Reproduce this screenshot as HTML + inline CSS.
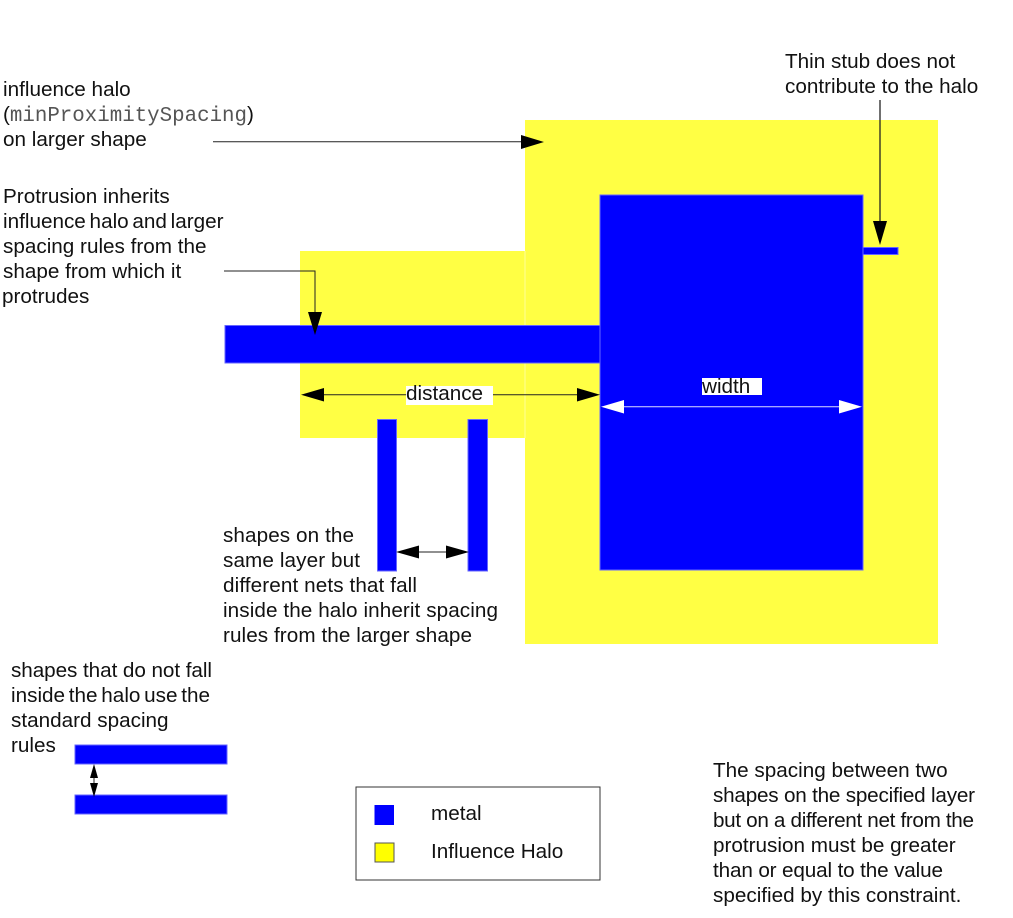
<!DOCTYPE html>
<html>
<head>
<meta charset="utf-8">
<style>
html,body{margin:0;padding:0;background:#fff}
svg{display:block}
text{font-family:"Liberation Sans",sans-serif;font-size:20.7px;fill:#111}
.m{font-family:"Liberation Mono",monospace;fill:#555;font-size:20.8px}
.t{word-spacing:-2px}
</style>
</head>
<body>
<svg width="1013" height="918" viewBox="0 0 1013 918" xmlns="http://www.w3.org/2000/svg">
<rect width="1013" height="918" fill="#fff"/>
<!-- halos -->
<rect x="525" y="120" width="413" height="524" fill="#ffff44"/>
<rect x="300" y="251" width="224.500" height="187" fill="#ffff44"/>
<rect x="524.500" y="251" width="1" height="187" fill="#ffff99"/>
<!-- metal -->
<g fill="#0000ff" stroke="#6666ff" stroke-width="1">
<rect x="600" y="195" width="263" height="375"/>
<rect x="225" y="325.500" width="375" height="37.500"/>
<rect x="377.500" y="419.500" width="19" height="151.500"/>
<rect x="468" y="419.500" width="19.500" height="151.500"/>
<rect x="863" y="247.500" width="35" height="7"/>
<rect x="75" y="745" width="152" height="19"/>
<rect x="75" y="795" width="152" height="19"/>
</g>
<!-- labels backgrounds -->
<rect x="406" y="386" width="87" height="19" fill="#fff"/>
<rect x="702" y="378" width="60" height="17" fill="#fff"/>
<!-- connectors -->
<g stroke="#222" stroke-width="1" fill="none">
<path d="M213 141.700H522"/>
<path d="M224 271H315V312"/>
<path d="M324 394.700H406M493 394.700H577"/>
<path d="M880 100V222" stroke-width="1.300"/>
<path d="M419 552H446"/>
<path d="M94 770V790"/>
</g>
<path d="M623 406.700H840" stroke="#ddddff" stroke-width="1" fill="none"/>
<!-- arrowheads -->
<g fill="#000">
<path d="M544 142L521 135V149Z"/>
<path d="M315 335L308 312H322Z"/>
<path d="M301 394.700L324 388V401.500Z"/>
<path d="M600 394.700L577 388V401.500Z"/>
<path d="M880 245L873 221H887Z"/>
<path d="M396 552L419 545.500V558.500Z"/>
<path d="M469 552L446 545.500V558.500Z"/>
<path d="M94 764L90 778H98Z"/>
<path d="M94 797L90 783H98Z"/>
</g>
<g fill="#fff">
<path d="M601 406.700L624 400V413.500Z"/>
<path d="M862 406.700L839 400V413.500Z"/>
</g>
<!-- text -->
<text x="3" y="96">influence halo</text>
<text x="3" y="121">(<tspan class="m">minProximitySpacing</tspan>)</text>
<text x="3" y="146">on larger shape</text>
<text x="3" y="203">Protrusion inherits</text>
<text x="3" y="228" class="t">influence halo and larger</text>
<text x="3" y="253">spacing rules from the</text>
<text x="3" y="278">shape from which it</text>
<text x="2" y="303">protrudes</text>
<text x="785" y="68">Thin stub does not</text>
<text x="785" y="93">contribute to the halo</text>
<text x="406" y="400">distance</text>
<text x="702" y="393">width</text>
<text x="223" y="542" textLength="131">shapes on the</text>
<text x="223" y="567" textLength="137">same layer but</text>
<text x="223" y="592" textLength="194">different nets that fall</text>
<text x="223" y="617" textLength="275">inside the halo inherit spacing</text>
<text x="223" y="642" textLength="249">rules from the larger shape</text>
<text x="11" y="677" textLength="201">shapes that do not fall</text>
<text x="11" y="702" class="t">inside the halo use the</text>
<text x="11" y="727">standard spacing</text>
<text x="11" y="752">rules</text>
<text x="713" y="777">The spacing between two</text>
<text x="713" y="802" textLength="262">shapes on the specified layer</text>
<text x="713" y="827" textLength="261">but on a different net from the</text>
<text x="713" y="852">protrusion must be greater</text>
<text x="713" y="877" textLength="230">than or equal to the value</text>
<text x="713" y="902">specified by this constraint.</text>
<!-- legend -->
<rect x="356" y="787" width="244" height="93" fill="#fff" stroke="#333" stroke-width="1"/>
<rect x="374.500" y="805" width="19.500" height="20" fill="#0000ff"/>
<rect x="375" y="843" width="19" height="19" fill="#ffff00" stroke="#555" stroke-width="1"/>
<text x="431" y="820">metal</text>
<text x="431" y="858">Influence Halo</text>
</svg>
</body>
</html>
